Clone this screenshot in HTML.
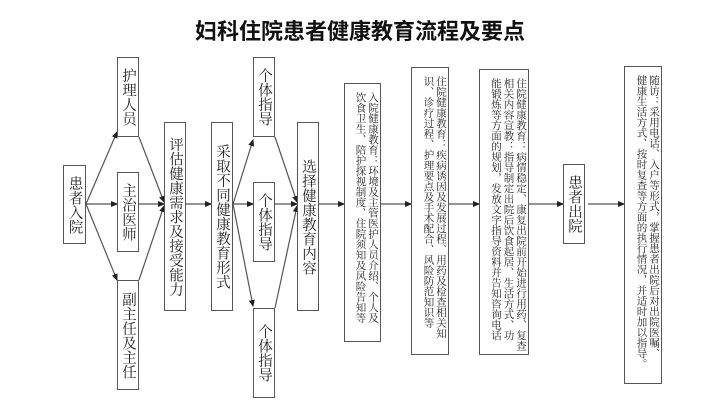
<!DOCTYPE html>
<html><head><meta charset="utf-8"><style>
body{margin:0;width:720px;height:404px;background:#fff;position:relative;overflow:hidden;font-family:"Liberation Serif","Noto Serif CJK SC",serif;}
.t{position:absolute;top:14px;left:0;width:720px;text-align:center;font:bold 22px "Liberation Sans","Noto Sans CJK SC",sans-serif;color:#111;}
.b{position:absolute;border:1.3px solid #555;box-sizing:border-box;background:#fff;writing-mode:vertical-rl;color:#222;white-space:nowrap;}
.L{font-size:14.5px;line-height:20px;display:flex;justify-content:center;align-items:center;}
.S{font-size:10.5px;line-height:12.5px;padding:8px 2px 0 0;}
svg{position:absolute;left:0;top:0}
</style></head><body>
<div class="t">妇科住院患者健康教育流程及要点</div>
<svg width="720" height="404"><defs><marker id="a" markerWidth="6" markerHeight="6" refX="5" refY="3" orient="auto"><path d="M0,0.5L6,3L0,5.5z" fill="#222"/></marker></defs>
<g stroke="#555" stroke-width="1.2" fill="none" marker-end="url(#a)">
<line x1="86" y1="204" x2="117" y2="132"/><line x1="86" y1="204" x2="117" y2="204"/><line x1="86" y1="204" x2="117" y2="280"/>
<line x1="139" y1="137" x2="164" y2="202"/><line x1="139" y1="204" x2="164" y2="204"/><line x1="139" y1="280" x2="164" y2="206"/>
<line x1="186" y1="204" x2="211" y2="204"/>
<line x1="233" y1="204" x2="253" y2="140"/><line x1="233" y1="204" x2="253" y2="204"/><line x1="233" y1="204" x2="253" y2="306"/>
<line x1="275" y1="137" x2="297" y2="202"/><line x1="275" y1="204" x2="297" y2="204"/><line x1="275" y1="308" x2="297" y2="206"/>
<line x1="319" y1="204" x2="344" y2="204"/><line x1="381" y1="204" x2="411" y2="204"/><line x1="449" y1="204" x2="479" y2="204"/>
<line x1="529" y1="204" x2="563" y2="204"/><line x1="588" y1="204" x2="624" y2="204"/>
</g></svg>
<div class="b L" style="left:63px;top:165px;width:23px;height:79px"><span>患者入院</span></div>
<div class="b L" style="left:117px;top:57px;width:22px;height:80px"><span>护理人员</span></div>
<div class="b L" style="left:117px;top:172px;width:22px;height:80px"><span>主治医师</span></div>
<div class="b L" style="left:117px;top:280px;width:22px;height:110px"><span>副主任及主任</span></div>
<div class="b L" style="left:164px;top:122px;width:22px;height:189px"><span>评估健康需求及接受能力</span></div>
<div class="b L" style="left:211px;top:122px;width:22px;height:189px"><span>采取不同健康教育形式</span></div>
<div class="b L" style="left:253px;top:57px;width:22px;height:80px"><span>个体指导</span></div>
<div class="b L" style="left:253px;top:182px;width:22px;height:80px"><span>个体指导</span></div>
<div class="b L" style="left:253px;top:308px;width:22px;height:90px"><span>个体指导</span></div>
<div class="b L" style="left:297px;top:122px;width:22px;height:189px"><span>选择健康教育内容</span></div>
<div class="b S" style="left:344px;top:83px;width:37px;height:259px">入院健康教育：环境及主管医护人员介绍、个人及<br>饮食卫生、陪护探视制度、住院须知及风险告知等</div>
<div class="b S" style="left:411px;top:67px;width:38px;height:288px">住院健康教育：疾病诱因及发展过程、用药及检查相关知<br>识、诊疗过程、护理要点及手术配合、风险防范知识等</div>
<div class="b S" style="left:479px;top:69px;width:50px;height:286px">住院健康教育：病情稳定、康复出院前开始进行用药、复查<br>相关内容宣教：指导制定出院后饮食起居、生活方式、功<br>能锻炼等方面的规划，发放文字指导资料并告知咨询电话</div>
<div class="b L" style="left:563px;top:164px;width:22px;height:80px"><span>患者出院</span></div>
<div class="b S" style="left:624px;top:66px;width:38px;height:318px">随访：采用电话、入户等形式，掌握患者出院后对出院医嘱、<br>健康生活方式、按时复查等方面的执行情况，并适时加以指导。</div>
</body></html>
